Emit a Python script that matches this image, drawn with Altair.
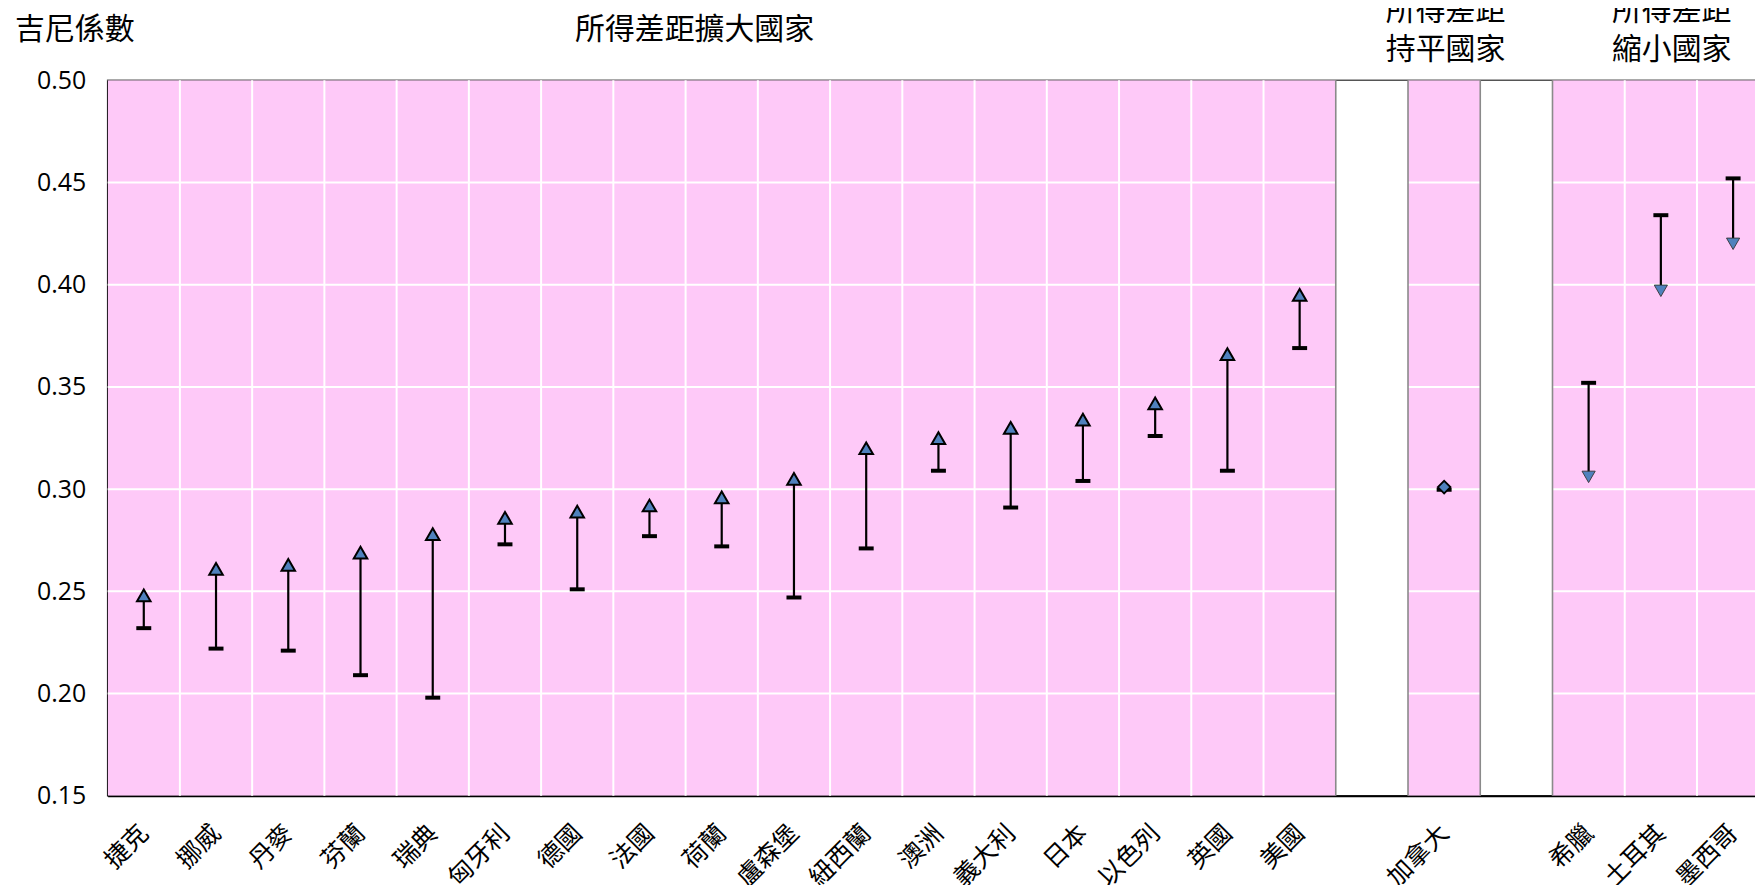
import altair as alt
import pandas as pd

# ---------------- data ----------------
countries = ["捷克", "挪威", "丹麥", "芬蘭", "瑞典", "匈牙利", "德國", "法國", "荷蘭",
             "盧森堡", "紐西蘭", "澳洲", "義大利", "日本", "以色列", "英國", "美國",
             "加拿大", "希臘", "土耳其", "墨西哥"]
gini_start = [0.232, 0.222, 0.221, 0.209, 0.198, 0.273, 0.251, 0.277, 0.272,
              0.247, 0.271, 0.309, 0.291, 0.304, 0.326, 0.309, 0.369,
              0.2997, 0.352, 0.434, 0.452]
gini_end = [0.248, 0.261, 0.263, 0.269, 0.278, 0.286, 0.289, 0.292, 0.296,
            0.305, 0.320, 0.325, 0.330, 0.334, 0.342, 0.366, 0.395,
            0.301, 0.306, 0.397, 0.420]
trend = ["擴大"] * 17 + ["持平"] + ["縮小"] * 3

group_keys = ["擴大", "持平", "縮小"]
group_titles = ["所得差距擴大國家", "所得差距\n持平國家", "所得差距\n縮小國家"]
group_title_x = [8.125, 18.52, 21.65]      # anchor in slot units
group_title_y = [0.5245, 0.5340, 0.5340]   # anchor (first line) in gini units

y_ticks = [0.15, 0.20, 0.25, 0.30, 0.35, 0.40, 0.45, 0.50]
y_title = "吉尼係數"

# ---------------- layout helpers ----------------
Y_MIN, Y_MAX = y_ticks[0], y_ticks[-1]
PLOT_W, PLOT_H = 1653, 718
SLOT_PX = 72.49
X_MAX = PLOT_W / SLOT_PX

slot = []
s, prev = 0, None
for g in trend:
    if prev is not None and g != prev:
        s += 1  # empty separator slot between groups
    slot.append(s)
    s += 1
    prev = g
n_slots = s

df = pd.DataFrame({
    "country": countries,
    "start": gini_start,
    "end": gini_end,
    "trend": trend,
    "slot": slot,
})
df["slot_end"] = df["slot"] + 1
df["xc"] = df["slot"] + 0.5
df["ymin"] = Y_MIN
df["ymax"] = Y_MAX

occupied = set(slot)
bounds = []
for b in range(1, n_slots):
    if b >= X_MAX:
        continue
    both = (b - 1 in occupied) and (b in occupied)
    bounds.append({"b": b, "c": "#ffffff" if both else "#8a8a8a", "w": 2.0 if both else 1.6})
df_bounds = pd.DataFrame(bounds)

df_grid = pd.DataFrame({"y": y_ticks[1:-1]})

df_titles = pd.DataFrame({"t": group_titles, "x": group_title_x, "y": group_title_y})

labels = [""] * n_slots
for c, sl in zip(countries, slot):
    labels[sl] = c
label_expr = "[" + ",".join("'%s'" % l for l in labels) + "][floor(datum.value)]"

CJK = "Noto Sans CJK TC"

xscale = alt.Scale(domain=[0, X_MAX], nice=False, zero=False)
yscale = alt.Scale(domain=[Y_MIN, Y_MAX], nice=False, zero=False)

x_axis = alt.Axis(
    values=[sl + 0.5 for sl in slot], labelExpr=label_expr, title=None,
    ticks=False, grid=False, labelAngle=-45, labelAlign="right", labelBaseline="middle",
    labelPadding=33, labelFontSize=25, labelFont=CJK, labelColor="black",
    labelFlush=False, labelOverlap=False, domainColor="black", domainWidth=2,
)
y_axis = alt.Axis(
    values=y_ticks, format=".2f", grid=False, ticks=False, labelPadding=22,
    labelFontSize=25, labelFont="Open Sans", labelColor="black", labelFlush=False,
    labelOverlap=False, domainColor="black", domainWidth=2,
    title=y_title, titleAngle=0, titleX=-33.5, titleY=-50.5, titleAlign="center",
    titleBaseline="middle", titleFontSize=30, titleFontWeight="normal",
    titleFont=CJK, titleColor="black",
)


def X(field):
    return alt.X(field, scale=xscale, axis=x_axis)


def Y(field):
    return alt.Y(field, scale=yscale, axis=y_axis)


base = alt.Chart(df)

bg = base.mark_rect(color="#FEC9F8", clip=True).encode(
    x=X("slot:Q"), x2="slot_end:Q",
    y=Y("ymin:Q"), y2="ymax:Q",
)

hgrid = alt.Chart(df_grid).mark_rule(color="white", strokeWidth=2).encode(
    y=Y("y:Q")
)

vgrid = alt.Chart(df_bounds).mark_rule().encode(
    x=X("b:Q"),
    color=alt.Color("c:N", scale=None),
    strokeWidth=alt.StrokeWidth("w:Q", scale=None),
)

titles = alt.Chart(df_titles).mark_text(
    font=CJK, fontSize=30, lineBreak="\n", lineHeight=39,
    align="center", baseline="middle", color="black",
).encode(
    x=X("x:Q"), y=Y("y:Q"), text="t:N",
)

whisker = base.mark_rule(color="black", strokeWidth=2.2).encode(
    x=X("xc:Q"), y=Y("start:Q"), y2="end:Q",
)

ticks = base.mark_tick(color="black", thickness=4, size=15, orient="horizontal",
                       opacity=1).encode(
    x=X("xc:Q"), y=Y("start:Q"),
)

up = base.transform_filter(alt.datum.trend == group_keys[0]).mark_point(
    shape="triangle-up", filled=True, fill="#4F81BD", size=185,
    stroke="black", strokeWidth=2, opacity=1,
).encode(x=X("xc:Q"), y=Y("end:Q"))

flat = base.transform_filter(alt.datum.trend == group_keys[1]).mark_point(
    shape="diamond", filled=True, fill="#4F81BD", size=160,
    stroke="black", strokeWidth=1.8, opacity=1,
).encode(x=X("xc:Q"), y=Y("end:Q"))

down = base.transform_filter(alt.datum.trend == group_keys[2]).mark_point(
    shape="triangle-down", filled=True, fill="#4F81BD", size=175,
    stroke="#333333", strokeWidth=0.9, opacity=1,
).encode(x=X("xc:Q"), y=Y("end:Q"))

chart = alt.layer(bg, hgrid, vgrid, titles, whisker, ticks, up, flat, down).properties(
    width=PLOT_W, height=PLOT_H,
    autosize=alt.AutoSizeParams(type="none"),
    padding={"left": 100, "top": 71, "right": 0, "bottom": 88},
    background="white",
).configure_view(stroke="#555555", strokeWidth=1.5)

chart.save("out.html", embed_options={"renderer": "svg", "actions": False})
